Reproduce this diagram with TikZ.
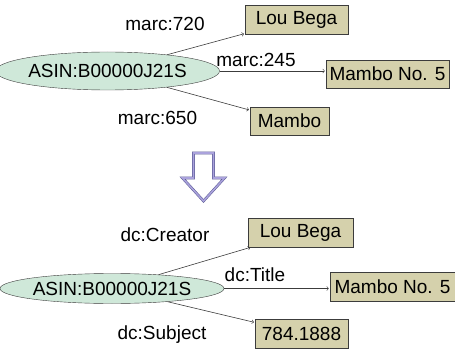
\documentclass[tikz,border=0pt]{standalone}
\usepackage{fontspec}
\setmainfont{Liberation Sans}
\usepackage{tikz}
\usetikzlibrary{arrows}
\usetikzlibrary{shapes.geometric}
\definecolor{resfill}{RGB}{207,232,217}
\definecolor{litfill}{RGB}{213,209,172}
\definecolor{edgegray}{RGB}{60,60,60}
\definecolor{convdark}{RGB}{85,85,145}
\definecolor{convlight}{RGB}{170,162,220}

\begin{document}
\begin{tikzpicture}[x=1pt,y=-1pt,
    font=\fontsize{19}{22}\selectfont,
    res/.style={ellipse,draw=edgegray,fill=resfill,inner sep=0pt,minimum width=185pt},
    lit/.style={rectangle,draw=edgegray,fill=litfill,inner sep=0pt,minimum height=29pt},
    prop/.style={inner sep=0pt},
    link/.style={->,>=to,draw=edgegray,line width=0.6pt,shorten >=1pt}]
    \useasboundingbox (0,0) rectangle (455,350);
    % before
    \node[res,minimum height=38pt] (asinA) at (107.5,71) {ASIN:B00000J21S};
    \node[lit,minimum width=103pt] (louA) at (296.5,19.5) {Lou Bega};
    \node[lit,minimum width=123pt,minimum height=28pt] (titleA) at (387.5,74) {Mambo No. 5};
    \node[lit,minimum width=79pt,minimum height=28pt] (subjA) at (289.5,121) {Mambo};
    \draw[link] (asinA) to (louA);
    \draw[link] (asinA.east) to (asinA.east -| titleA.west);
    \draw[link] (asinA) to (subjA);
    \node[prop] (m720) at (165,24) {marc:720};
    \node[prop] (m245) at (256,60) {marc:245};
    \node[prop] (m650) at (157.5,117.5) {marc:650};
    % mapping
    \draw[draw=convdark,double=convlight,double distance=1.6pt,line width=0.5pt,fill=white,line join=miter]
      (193.5,153) -- (213.5,153) -- (213.5,178) -- (224.5,178) -- (203.5,201)
      -- (182.5,178) -- (193.5,178) -- cycle;
    % after
    \node[res,minimum height=30pt,minimum width=184pt] (asinB) at (112,288.5) {ASIN:B00000J21S};
    \node[lit,minimum width=105pt] (louB) at (300.5,232.5) {Lou Bega};
    \node[lit,minimum width=125pt] (titleB) at (392.5,286.5) {Mambo No. 5};
    \node[lit,minimum width=93pt] (subjB) at (301.5,333.5) {784.1888};
    \draw[link] (asinB) to (louB);
    \draw[link] (asinB.east) to (asinB.east -| titleB.west);
    \draw[link] (asinB) to (subjB);
    \node[prop] (dcc) at (165,235) {dc:Creator};
    \node[prop] (dct) at (255,274.5) {dc:Title};
    \node[prop] (dcs) at (162,335) {dc:Subject};
\end{tikzpicture}
\end{document}
